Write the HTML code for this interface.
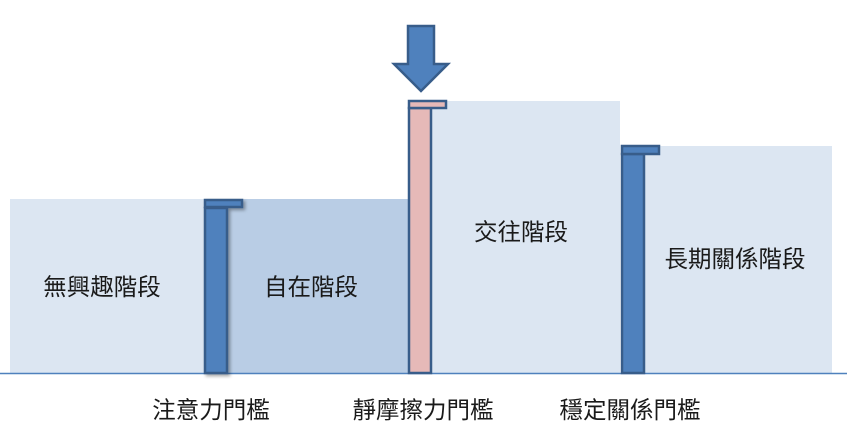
<!DOCTYPE html>
<html><head><meta charset="utf-8"><style>
html,body{margin:0;padding:0;background:#fff;width:847px;height:435px;overflow:hidden}
svg text{font-family:"Liberation Sans","Noto Sans CJK TC",sans-serif;font-size:23.5px;fill:#1a1a1a;text-anchor:middle}
</style></head><body>
<svg width="847" height="435" viewBox="0 0 847 435" xmlns="http://www.w3.org/2000/svg">
<defs><filter id="sh" x="-50%" y="-10%" width="200%" height="120%"><feDropShadow dx="2" dy="2" stdDeviation="1.5" flood-color="#000" flood-opacity="0.35"/></filter></defs>
<rect x="10" y="199" width="196" height="174" fill="#dce6f2"/>
<rect x="226" y="199" width="184" height="174" fill="#b9cde5"/>
<rect x="430" y="101" width="190" height="272" fill="#dce6f2"/>
<rect x="642" y="146" width="190" height="227" fill="#dce6f2"/>
<line x1="0" y1="373.5" x2="847" y2="373.5" stroke="#4f81bd" stroke-width="1.5"/>
<g filter="url(#sh)" stroke="#385d8a" stroke-width="2.5" fill="#4f81bd">
<rect x="205" y="208" width="22" height="165"/>
<rect x="205" y="200" width="37" height="7"/>
</g>
<g stroke="#385d8a" stroke-width="2.5" fill="#e6b9b8">
<rect x="409" y="108" width="22" height="265"/>
<rect x="409" y="101" width="37" height="7"/>
</g>
<g stroke="#385d8a" stroke-width="2.5" fill="#4f81bd">
<rect x="622" y="154" width="22" height="219"/>
<rect x="622" y="146" width="37" height="8"/>
<polygon points="408,26 434,26 434,64 448,64 421,91 394,64 408,64"/>
</g>
<text x="102" y="295">無興趣階段</text>
<text x="311" y="295">自在階段</text>
<text x="521" y="240">交往階段</text>
<text x="735" y="267">長期關係階段</text>
<text x="211" y="418">注意力門檻</text>
<text x="423" y="418">靜摩擦力門檻</text>
<text x="630" y="418">穩定關係門檻</text>
</svg>
</body></html>
